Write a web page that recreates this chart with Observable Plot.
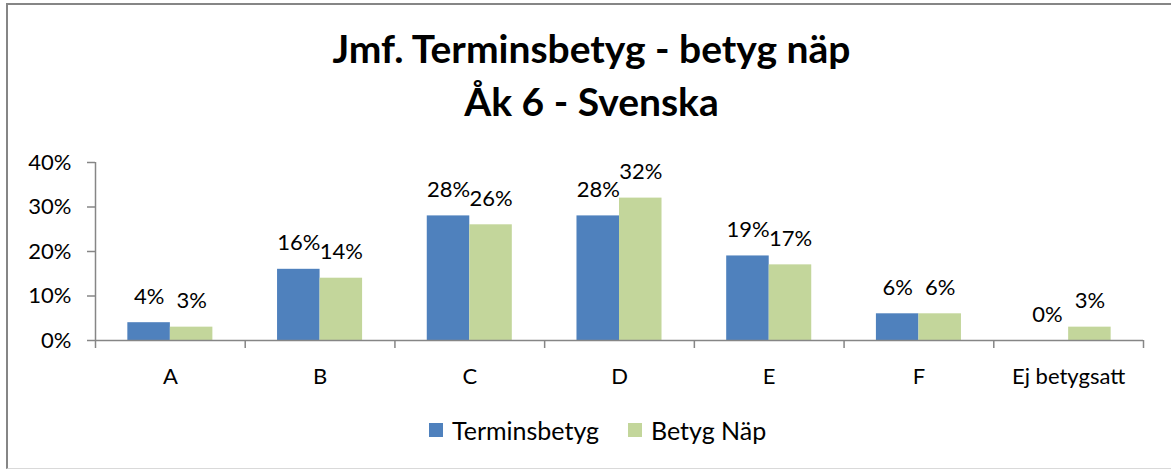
<!DOCTYPE html>
<html>
<head>
<meta charset="utf-8">
<script src="https://cdn.jsdelivr.net/npm/d3@7"></script>
<script src="https://cdn.jsdelivr.net/npm/@observablehq/plot@0.6"></script>
<style>
  body { margin: 0; background: #fff; }
  #wrap { position: relative; width: 1171px; height: 470px; overflow: hidden; font-family: Lato, "Open Sans", sans-serif; }
  #border { position: absolute; left: 6px; top: 3px; width: 1200px; height: 466px; box-sizing: border-box;
            border-top: 2px solid #868686; border-left: 2px solid #868686; border-bottom: 1px solid #d9d9d9; }
  #title { position: absolute; left: 0; top: 22px; width: 1183px; text-align: center; font-weight: bold;
           font-size: 39px; line-height: 53px; color: #000; }
  #chart { position: absolute; left: 0; top: 0; }
  .leg { position: absolute; top: 415px; height: 30px; display: flex; align-items: center; font-size: 25px; color: #000; }
  .sw { width: 14px; height: 14px; margin-right: 9px; }
</style>
</head>
<body>
<div id="wrap">
  <div id="border"></div>
  <div id="chart"></div>
  <div id="title">Jmf. Terminsbetyg - betyg näp<br>Åk 6 - Svenska</div>
  <div id="legend"></div>
</div>
<script>
const categories = ["A", "B", "C", "D", "E", "F", "Ej betygsatt"];
const terminsbetyg = [4, 16, 28, 28, 19, 6, 0];
const betygNap = [3, 14, 26, 32, 17, 6, 3];
const seriesNames = ["Terminsbetyg", "Betyg Näp"];
const seriesColors = ["#4F81BD", "#C3D69B"];
const yTicks = [0, 10, 20, 30, 40];

const barW = 0.284; // fraction of a category slot
const rows = [];
categories.forEach((c, i) => {
  rows.push({cat: c, i, series: seriesNames[0], value: terminsbetyg[i], x1: i + 0.5 - barW, x2: i + 0.5});
  rows.push({cat: c, i, series: seriesNames[1], value: betygNap[i], x1: i + 0.5, x2: i + 0.5 + barW});
});

const axisColor = "#868686";

const chart = Plot.plot({
  width: 1171,
  height: 470,
  marginLeft: 95,
  marginRight: 28,
  marginTop: 162,
  marginBottom: 130,
  style: {fontFamily: "Lato, 'Open Sans', sans-serif", fontSize: "22px", color: "#000", background: "transparent"},
  x: {type: "linear", domain: [0, categories.length], axis: null},
  y: {domain: [0, 40], axis: null},
  color: {domain: seriesNames, range: seriesColors},
  marks: [
    Plot.rectY(rows, {x1: "x1", x2: "x2", y1: 0, y2: "value", fill: "series"}),
    Plot.ruleY([0], {stroke: axisColor, strokeWidth: 1.5}),
    Plot.ruleX([0], {y1: 0, y2: 40, stroke: axisColor, strokeWidth: 1.5}),
    Plot.axisY({ticks: yTicks, label: null, tickSize: 8, tickPadding: 16, tickFormat: d => d + "%", stroke: axisColor, strokeWidth: 1.5, fill: "#000"}),
    Plot.axisX({ticks: d3.range(0, categories.length + 1), label: null, tickSize: 8, tickFormat: () => "", stroke: axisColor, strokeWidth: 1.5}),
    Plot.axisX({ticks: categories.map((c, i) => i + 0.5), label: null, tickSize: 0, tickPadding: 28, tickFormat: d => categories[Math.floor(d)], fill: "#000"}),
    Plot.text(rows, {x: d => (d.x1 + d.x2) / 2, y: "value", text: d => d.value + "%", lineAnchor: "bottom", dy: -19, fill: "#000"})
  ]
});
document.getElementById("chart").appendChild(chart);

const legend = document.getElementById("legend");
const legLefts = [429, 628];
seriesNames.forEach((s, k) => {
  const item = document.createElement("div");
  item.className = "leg";
  item.style.left = legLefts[k] + "px";
  item.innerHTML = `<span class="sw" style="background:${seriesColors[k]}"></span><span>${s}</span>`;
  legend.appendChild(item);
});
</script>
</body>
</html>
